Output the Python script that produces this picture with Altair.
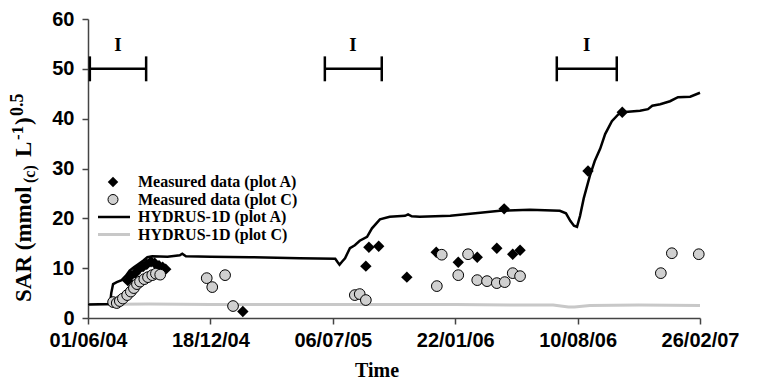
import altair as alt
import pandas as pd

# ---- data (days after 01/06/04, SAR values) ----
START = pd.Timestamp("2004-06-01")

hA_days = [0, 36, 38, 41, 47, 55, 62, 68, 75, 82, 90, 97, 105, 130, 150, 154, 160, 200, 265, 346,
           404, 408, 411, 415, 420, 428, 436, 444, 456, 464, 477, 493, 518, 523, 529, 542, 592, 641, 673, 722,
           771, 781, 788, 794, 799, 804, 810, 820, 828, 837, 845, 856, 866, 873, 902, 915, 922, 935, 951, 964,
           984, 1000]
hA_vals = [2.7, 2.8, 5.0, 6.8, 7.2, 7.6, 8.5, 9.5, 10.2, 10.8, 11.5, 12.2, 12.4, 12.3, 12.6, 12.9, 12.4, 12.3, 12.2, 12.0,
           11.9, 11.2, 10.7, 11.3, 12.0, 14.0, 14.6, 15.5, 16.3, 18.0, 19.8, 20.3, 20.5, 20.8, 20.4, 20.3, 20.5, 21.1, 21.5, 21.7,
           21.5, 21.0, 19.5, 18.5, 18.3, 20.5, 24.0, 28.5, 31.5, 34.0, 36.9, 39.5, 40.8, 41.3, 41.6, 41.9, 42.6, 42.9, 43.5, 44.3,
           44.4, 45.2]

hC_days = [0, 100, 200, 300, 400, 500, 600, 700, 760, 785, 795, 820, 900, 1000]
hC_vals = [2.7, 2.8, 2.7, 2.7, 2.7, 2.7, 2.7, 2.6, 2.6, 2.2, 2.2, 2.5, 2.6, 2.5]

mA_days = [65, 70, 77, 83, 90, 96, 103, 109, 116, 122, 127, 253, 454, 459, 475, 521, 569, 605, 636, 668,
           680, 694, 706, 817, 873]
mA_vals = [7.5, 8.5, 9.0, 9.8, 10.3, 10.8, 11.3, 11.0, 10.5, 10.2, 9.8, 1.3, 10.4, 14.2, 14.4, 8.2, 13.2, 11.2, 12.2, 14.0,
           21.9, 12.8, 13.6, 29.5, 41.3]

mC_days = [41, 47, 52, 57, 64, 70, 75, 80, 85, 92, 98, 105, 111, 118, 194, 203, 224, 237, 436, 444, 454,
           570, 578, 605, 621, 636, 652, 668, 681, 694, 706, 936, 954, 998]
mC_vals = [3.2, 3.0, 3.4, 3.9, 4.6, 5.3, 6.0, 6.8, 7.3, 7.8, 8.2, 8.6, 8.9, 8.7, 8.0, 6.2, 8.6, 2.4, 4.6, 4.8, 3.6,
           6.4, 12.7, 8.6, 12.8, 7.6, 7.4, 7.0, 7.2, 9.0, 8.4, 9.0, 13.0, 12.8]

irr_start = [3, 387, 766]
irr_end = [95, 480, 864]
irr_level = 50

x_ticks = ["2004-06-01", "2004-12-18", "2005-07-06", "2006-01-22", "2006-08-10", "2007-02-26"]
y_ticks = [0, 10, 20, 30, 40, 50, 60]

legend_labels = ["Measured data (plot A)", "Measured data (plot C)", "HYDRUS-1D (plot A)", "HYDRUS-1D (plot C)"]


def to_dates(days):
    return [(START + pd.Timedelta(days=int(d))).strftime("%Y-%m-%d") for d in days]


def dt(s):
    t = pd.Timestamp(s)
    return alt.DateTime(year=t.year, month=t.month, date=t.day, utc=True)


hA = pd.DataFrame({"date": to_dates(hA_days), "v": hA_vals})
hC = pd.DataFrame({"date": to_dates(hC_days), "v": hC_vals})
mA = pd.DataFrame({"date": to_dates(mA_days), "v": mA_vals})
mC = pd.DataFrame({"date": to_dates(mC_days), "v": mC_vals})
irr = pd.DataFrame({
    "start": to_dates(irr_start),
    "end": to_dates(irr_end),
    "mid": to_dates([(a + b) / 2 for a, b in zip(irr_start, irr_end)]),
    "v": [irr_level] * 3,
    "lo": [irr_level - 2.5] * 3,
    "hi": [irr_level + 2.5] * 3,
    "lab": ["I"] * 3,
})

x_scale = alt.Scale(type="utc", domain=[dt(x_ticks[0]), dt(x_ticks[-1])], nice=False)
x_axis = alt.Axis(values=[dt(s) for s in x_ticks], labelExpr="utcFormat(datum.value, '%d/%m/%y')", title=None,
                  labelFont="Liberation Sans", labelFontWeight="bold", labelFontSize=20, labelColor="black",
                  tickSize=6, labelPadding=6, grid=False, labelFlush=False, labelOverlap=False)
y_scale = alt.Scale(domain=[0, 60], nice=False)
y_axis = alt.Axis(values=y_ticks, title=None, labelFont="Liberation Sans", labelFontWeight="bold",
                  labelFontSize=20, labelColor="black", tickSize=6, labelPadding=8, grid=False)


def X(f):
    return alt.X(f, scale=x_scale, axis=x_axis)


def Y(f):
    return alt.Y(f, scale=y_scale, axis=y_axis)


lineC = alt.Chart(hC).mark_line(color="#c8c8c8", strokeWidth=3).encode(x=X("date:T"), y=Y("v:Q"))
lineA = alt.Chart(hA).mark_line(color="black", strokeWidth=2.5).encode(x=X("date:T"), y=Y("v:Q"))
ptsA = alt.Chart(mA).mark_point(shape="diamond", filled=True, color="black", size=130, opacity=1).encode(
    x=X("date:T"), y=Y("v:Q"))
ptsC = alt.Chart(mC).mark_point(shape="circle", filled=True, fill="#d0d0d0", stroke="black", strokeWidth=1,
                                size=115, opacity=1).encode(x=X("date:T"), y=Y("v:Q"))

bar_h = alt.Chart(irr).mark_rule(color="black", strokeWidth=2.5).encode(x=X("start:T"), x2="end:T", y=Y("v:Q"))
cap_l = alt.Chart(irr).mark_rule(color="black", strokeWidth=2.5).encode(x=X("start:T"), y=Y("lo:Q"), y2="hi:Q")
cap_r = alt.Chart(irr).mark_rule(color="black", strokeWidth=2.5).encode(x=X("end:T"), y=Y("lo:Q"), y2="hi:Q")
bar_t = alt.Chart(irr).mark_text(font="Liberation Serif", fontWeight="bold", fontSize=19, baseline="alphabetic",
                                 dy=-5, color="black").encode(x=X("mid:T"), y=Y("hi:Q"), text="lab:N")

one = pd.DataFrame({"a": [0]})
leg_y = [163, 180.5, 198, 215.5]
leg_d = alt.Chart(one).mark_point(shape="diamond", filled=True, color="black", size=110, opacity=1).encode(
    x=alt.value(25), y=alt.value(leg_y[0]))
leg_c = alt.Chart(one).mark_point(shape="circle", filled=True, fill="#d0d0d0", stroke="black", strokeWidth=1,
                                  size=100, opacity=1).encode(x=alt.value(25), y=alt.value(leg_y[1]))
leg_la = alt.Chart(one).mark_rule(color="black", strokeWidth=2.5).encode(
    x=alt.value(10), x2=alt.value(42), y=alt.value(leg_y[2]))
leg_lc = alt.Chart(one).mark_rule(color="#c8c8c8", strokeWidth=3).encode(
    x=alt.value(10), x2=alt.value(42), y=alt.value(leg_y[3]))
leg_txt = [
    alt.Chart(one).mark_text(text=t, font="Liberation Serif", fontWeight="bold", fontSize=16, align="left",
                             baseline="middle", color="black").encode(x=alt.value(50), y=alt.value(yy))
    for t, yy in zip(legend_labels, leg_y)
]

# y-axis title with sub/superscripts (rotated pieces)
title_parts = [
    ("SAR (mmol", 23, -57, 283),
    ("(c)", 16, -53, 164),
    ("L", 23, -57, 138),
    ("-1", 17, -65, 121),
    (")", 23, -57, 106),
    ("0.5", 18, -65, 97),
]
ytitle = [
    alt.Chart(one).mark_text(text=t, font="Liberation Serif", fontWeight="bold", fontSize=fs, angle=270,
                             align="left", baseline="alphabetic", color="black").encode(
        x=alt.value(px), y=alt.value(py))
    for t, fs, px, py in title_parts
]
xtitle = alt.Chart(one).mark_text(text="Time", font="Liberation Serif", fontWeight="bold", fontSize=20,
                                  align="center", baseline="alphabetic", color="black").encode(
    x=alt.value(289), y=alt.value(358))

chart = alt.layer(
    lineC, lineA, ptsA, ptsC, bar_h, cap_l, cap_r, bar_t,
    leg_d, leg_c, leg_la, leg_lc, *leg_txt, *ytitle, xtitle
).properties(
    width=612, height=299,
    autosize=alt.AutoSizeParams(type="none"),
    padding={"left": 80, "top": 11, "right": 62, "bottom": 69},
).configure_view(stroke=None).configure_axis(
    domainColor="#444444", tickColor="#444444", domainWidth=1.5, tickWidth=1.5
)

chart.save("out.html", embed_options={"renderer": "svg", "actions": False})
